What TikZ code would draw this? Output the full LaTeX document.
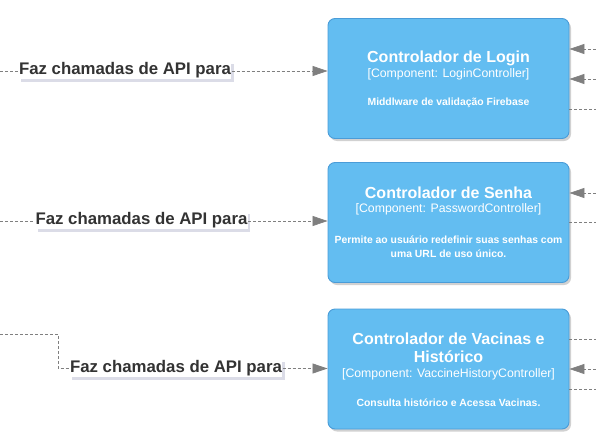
\documentclass[tikz,border=0pt]{standalone}
\usepackage{fontspec}
\setmainfont{Liberation Sans}
\usetikzlibrary{arrows.meta,shadows}
\definecolor{compfill}{HTML}{63BDF1}
\definecolor{compdraw}{HTML}{4A9CD8}
\definecolor{depgray}{HTML}{7F7F7F}
\definecolor{labtext}{HTML}{333333}
\definecolor{labshadow}{HTML}{A4A8C4}
\definecolor{boxshadow}{HTML}{8C8C8C}
\tikzset{
  comp/.style={draw=compdraw, line width=0.9pt, fill=compfill, rounded corners=7pt,
    minimum width=241pt, minimum height=120pt, inner sep=0pt,
    drop shadow={shadow xshift=2pt, shadow yshift=-2.5pt, fill=boxshadow, opacity=0.4}},
  ctitle/.style={text=white, font=\bfseries\fontsize{16}{18}\selectfont, inner sep=0pt},
  ctech/.style={text=white, font=\fontsize{12.3}{14}\selectfont, inner sep=0pt},
  cdesc/.style={text=white, font=\bfseries\fontsize{10.4}{14.5}\selectfont, inner sep=0pt, align=center},
  dep/.style={draw=depgray, line width=0.7pt, dash pattern=on 3pt off 2pt},
  arr/.style={-{Triangle[length=15pt,width=10pt]}, depgray},
  deplabel/.style={fill=white, text=labtext, font=\bfseries\fontsize{16.8}{18}\selectfont,
    inner xsep=0.5pt, inner ysep=1pt,
    drop shadow={shadow xshift=2.5pt, shadow yshift=-2.5pt, fill=labshadow, opacity=0.4}}
}
\begin{document}
\begin{tikzpicture}[x=1pt,y=-1pt]
\useasboundingbox (0,0) rectangle (596,444);
% components
\node[comp] (b1) at (448.5,78.5) {};
\node[comp] (b2) at (448.5,222.5) {};
\node[comp] (b3) at (448.5,369) {};
\node[ctitle] (b1t) at (448.5,58) {Controlador de Login};
\node[ctech] (b1c) at (448.5,74.5) {[Component: LoginController]};
\node[cdesc] (b1d) at (448.5,103) {Middlware de validação Firebase};
\node[ctitle] (b2t) at (448.5,193) {Controlador de Senha};
\node[ctech] (b2c) at (448.5,209.5) {[Component: PasswordController]};
\node[cdesc] (b2d) at (448.5,246.5) {Permite ao usuário redefinir suas senhas com\\uma URL de uso único.};
\node[ctitle] (b3t1) at (448.5,339) {Controlador de Vacinas e};
\node[ctitle] (b3t2) at (448.5,357) {Histórico};
\node[ctech] (b3c) at (448.5,374.5) {[Component: VaccineHistoryController]};
\node[cdesc] (b3d) at (448.5,403) {Consulta histórico e Acessa Vacinas.};
% left connectors
\coordinate (s1) at (0,71);
\coordinate (s2) at (0,221);
\coordinate (s3) at (0,334);
\coordinate (k3) at (58,334);
\node[deplabel] (l1) at (125,70.5) {Faz chamadas de API para};
\node[deplabel] (l2) at (141.5,220.5) {Faz chamadas de API para};
\node[deplabel] (l3) at (176,368.5) {Faz chamadas de API para};
\draw[dep] (s1) -- (s1 -| l1.west);
\draw[dep,arr] (s1 -| l1.east) -- (s1 -| b1.west);
\draw[dep] (s2) -- (s2 -| l2.west);
\draw[dep,arr] (s2 -| l2.east) -- (s2 -| b2.west);
\draw[dep] (s3) -- (k3) -- (k3 |- l3.west) -- (l3.west);
\draw[dep,arr] (l3.east) -- (l3.east -| b3.west);
% right connectors
\coordinate (r1a) at (596,49);
\coordinate (r1b) at (596,79);
\coordinate (r1c) at (596,109);
\coordinate (r2a) at (596,193);
\coordinate (r2b) at (596,222);
\coordinate (r3a) at (596,339);
\coordinate (r3b) at (596,369);
\coordinate (r3c) at (596,389);
\draw[dep,arr] (r1a) -- (r1a -| b1.east);
\draw[dep,arr] (r1b) -- (r1b -| b1.east);
\draw[dep] (r1c -| b1.east) -- (r1c);
\draw[dep,arr] (r2a) -- (r2a -| b2.east);
\draw[dep] (r2b -| b2.east) -- (r2b);
\draw[dep] (r3a -| b3.east) -- (r3a);
\draw[dep,arr] (r3b) -- (r3b -| b3.east);
\draw[dep] (r3c -| b3.east) -- (r3c);
\end{tikzpicture}
\end{document}
